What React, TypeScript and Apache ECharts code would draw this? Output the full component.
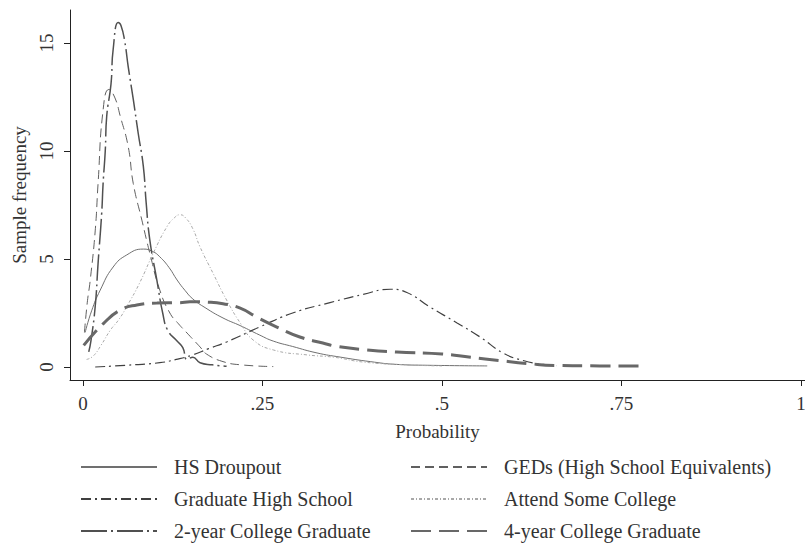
import React, { useEffect, useRef } from "react";
import * as echarts from "echarts";

// Series data: [probability, sample frequency]
const hsDropout = [
  [0.003, 1.6], [0.012, 2.6], [0.024, 3.56], [0.042, 4.63], [0.061, 5.19], [0.084, 5.46],
  [0.097, 5.35], [0.107, 5.1], [0.12, 4.6], [0.131, 4.03], [0.142, 3.55], [0.153, 3.15],
  [0.17, 2.75], [0.195, 2.27], [0.22, 1.9], [0.246, 1.48], [0.265, 1.2], [0.292, 0.95],
  [0.326, 0.65], [0.358, 0.46], [0.4, 0.25], [0.437, 0.12], [0.48, 0.08], [0.563, 0.05],
];
const geds = [
  [0.002, 1.6], [0.006, 3.0], [0.01, 4.0], [0.017, 6.3], [0.021, 8.5], [0.028, 11.9],
  [0.036, 12.85], [0.044, 12.5], [0.052, 11.6], [0.063, 10.2], [0.07, 8.5], [0.082, 6.8],
  [0.093, 5.28], [0.107, 3.56], [0.121, 2.5], [0.133, 2.0], [0.145, 1.57], [0.163, 0.93],
  [0.172, 0.6], [0.195, 0.25], [0.22, 0.1], [0.265, 0.02],
];
const gradHighSchool = [
  [0.017, 0.0], [0.06, 0.08], [0.107, 0.2], [0.13, 0.35], [0.153, 0.56], [0.175, 0.85],
  [0.2, 1.16], [0.246, 1.85], [0.292, 2.5], [0.344, 2.98], [0.39, 3.36], [0.428, 3.6],
  [0.451, 3.45], [0.483, 2.78], [0.521, 2.04], [0.553, 1.39], [0.585, 0.65], [0.613, 0.3],
  [0.64, 0.12], [0.66, 0.06],
];
const someCollege = [
  [0.005, 0.35], [0.014, 0.5], [0.025, 1.0], [0.038, 1.7], [0.05, 2.2], [0.061, 2.8],
  [0.079, 3.9], [0.098, 5.28], [0.117, 6.5], [0.127, 6.9], [0.135, 7.05], [0.143, 6.9],
  [0.153, 6.4], [0.163, 5.56], [0.181, 4.35], [0.2, 3.1], [0.219, 2.04], [0.237, 1.25],
  [0.265, 0.79], [0.312, 0.56], [0.35, 0.45], [0.39, 0.23], [0.45, 0.1], [0.5, 0.05],
];
const twoYear = [
  [0.008, 0.7], [0.011, 1.2], [0.017, 2.8], [0.021, 4.8], [0.026, 7.1], [0.028, 8.5],
  [0.031, 10.0], [0.033, 11.6], [0.039, 13.1], [0.042, 14.7], [0.049, 15.95], [0.053, 15.8],
  [0.058, 15.1], [0.063, 13.9], [0.07, 12.4], [0.077, 10.8], [0.084, 9.3], [0.088, 7.6],
  [0.093, 5.9], [0.103, 4.0], [0.111, 2.5], [0.118, 1.7], [0.131, 1.2], [0.139, 0.9],
  [0.145, 0.35], [0.153, 0.45], [0.163, 0.2], [0.18, 0.1], [0.2, 0.03],
];
const fourYear = [
  [0.001, 1.0], [0.028, 2.0], [0.052, 2.64], [0.075, 2.87], [0.103, 2.96], [0.135, 2.98],
  [0.149, 3.02], [0.175, 3.0], [0.195, 2.93], [0.219, 2.73], [0.242, 2.31], [0.27, 1.85],
  [0.302, 1.39], [0.334, 1.11], [0.354, 0.95], [0.395, 0.79], [0.437, 0.69], [0.5, 0.6],
  [0.54, 0.45], [0.58, 0.3], [0.62, 0.16], [0.66, 0.07], [0.72, 0.05], [0.78, 0.04],
];

const seriesNames = [
  "HS Droupout",
  "GEDs (High School Equivalents)",
  "Graduate High School",
  "Attend Some College",
  "2-year College Graduate",
  "4-year College Graduate",
];
const xTicks = [0, 0.25, 0.5, 0.75, 1];
const xTickLabels = ["0", ".25", ".5", ".75", "1"];
const yTicks = [0, 5, 10, 15];

const FONT = "Liberation Serif";

export default function App() {
  const ref = useRef<HTMLDivElement>(null);
  useEffect(() => {
    if (!ref.current) return;
    const chart = echarts.init(ref.current, null, { renderer: "svg" });
    const mk = (name: string, data: number[][], color: string, width: number, type: any) => ({
      name,
      type: "line",
      data,
      smooth: 0.5,
      symbol: "none",
      showSymbol: false,
      lineStyle: { color, width, type },
      itemStyle: { color },
      emphasis: { disabled: true },
    });
    const textStyle = { fontFamily: FONT, fontSize: 20, color: "#333", lineHeight: 19, padding: [0, 0, 0, 12] };
    const legendCommon = {
      orient: "vertical",
      top: 452,
      itemHeight: 14,
      itemGap: 12,
      itemWidth: 76,
      textStyle,
      selectedMode: false,
      itemStyle: { opacity: 0, borderWidth: 0 },
    };
    chart.setOption({
      animation: false,
      backgroundColor: "#fff",
      grid: { left: 70, right: 0, top: 10, bottom: 170, containLabel: false, outerBoundsMode: "none" },
      xAxis: {
        type: "value",
        min: -0.0181,
        max: 1.0056,
        name: "Probability",
        nameLocation: "middle",
        nameGap: 42,
        nameTextStyle: { fontFamily: FONT, fontSize: 19, color: "#333" },
        axisLine: { show: true, onZero: false, lineStyle: { color: "#222", width: 1 } },
        axisTick: { show: true, customValues: xTicks, length: 6, lineStyle: { color: "#222" } },
        axisLabel: {
          customValues: xTicks,
          formatter: (v: number) => xTickLabels[xTicks.findIndex((t) => Math.abs(t - v) < 1e-6)] ?? "",
          margin: 14,
          fontFamily: FONT,
          fontSize: 19,
          color: "#333",
        },
        splitLine: { show: false },
      },
      yAxis: {
        type: "value",
        min: -0.602,
        max: 16.53,
        name: "Sample frequency",
        nameLocation: "middle",
        nameGap: 40,
        nameTextStyle: { fontFamily: FONT, fontSize: 19, color: "#333" },
        axisLine: { show: true, onZero: false, lineStyle: { color: "#222", width: 1 } },
        axisTick: { show: true, customValues: yTicks, length: 6, lineStyle: { color: "#222" } },
        axisLabel: {
          customValues: yTicks,
          rotate: 90,
          margin: 14,
          fontFamily: FONT,
          fontSize: 19,
          color: "#333",
        },
        splitLine: { show: false },
      },
      legend: [
        {
          ...legendCommon,
          data: [seriesNames[0], seriesNames[2], seriesNames[4]],
          left: 75,
        },
        {
          ...legendCommon,
          data: [seriesNames[1], seriesNames[3], seriesNames[5]],
          left: 405,
        },
      ],
      series: [
        mk(seriesNames[0], hsDropout, "#707070", 1, "solid"),
        mk(seriesNames[1], geds, "#606060", 1, [9, 5]),
        mk(seriesNames[2], gradHighSchool, "#404040", 1.2, [10, 4, 2, 4]),
        mk(seriesNames[3], someCollege, "#a8a8a8", 1, [3, 2, 1, 2]),
        mk(seriesNames[4], twoYear, "#505050", 1.5, [26, 4, 2, 4]),
        mk(seriesNames[5], fourYear, "#686868", 3, [20, 8]),
      ],
    });
    return () => chart.dispose();
  }, []);
  return <div ref={ref} style={{ position: "fixed", left: 0, top: 0, width: 805, height: 550 }} />;
}
